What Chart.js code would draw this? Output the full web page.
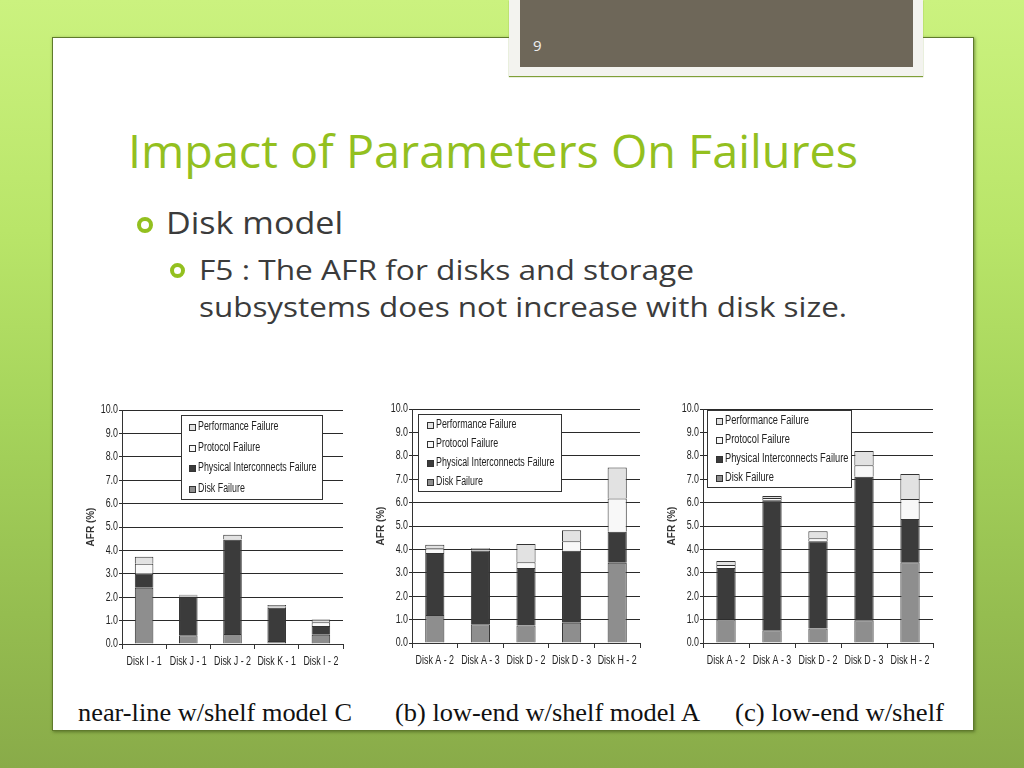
<!DOCTYPE html>
<html>
<head>
<meta charset="utf-8">
<script src="https://cdn.jsdelivr.net/npm/chart.js@4.4.1/dist/chart.umd.min.js"></script>
<style>
  html, body { margin: 0; padding: 0; }
  body {
    width: 1024px; height: 768px; overflow: hidden; position: relative;
    background: linear-gradient(180deg, #cbf27f 0%, #b9e569 30%, #a5d35b 55%, #95bd50 80%, #89ab49 100%);
  }
  .panel {
    position: absolute; left: 52px; top: 37px; width: 920px; height: 692px;
    background: #fff; border: 1px solid #5f7a2c; box-shadow: 1px 1px 3px rgba(40,60,10,0.5);
  }
  .numbox {
    position: absolute; left: 509px; top: 0; width: 414px; height: 76px;
    background: #f3f3ef; box-shadow: 0 1px 1px #7f9f38; z-index: 2;
  }
  .numbox .inner {
    position: absolute; left: 11px; top: 0; width: 393px; height: 67px; background: #6e6759;
  }
  .numbox .num {
    position: absolute; left: 13px; top: 35px; font: 15px "Open Sans", sans-serif; color: #f0f0f0;
  }
  .txt { position: absolute; white-space: nowrap; transform-origin: left top; }
  .title { left: 128px; top: 120px; font: 46px "Open Sans", sans-serif; color: #93c01f; line-height: 60px; }
  .b1 { left: 166px; top: 202px; font: 31px "Open Sans", sans-serif; color: #3b3b3b; line-height: 40px; }
  .b2 { left: 199px; top: 251px; font: 28px "Open Sans", sans-serif; color: #3b3b3b; line-height: 37px; }
  .ring { position: absolute; border: 4px solid #93c01f; border-radius: 50%; box-sizing: border-box; }
  .cap { top: 697px; font: 26px "Liberation Serif", serif; color: #111; line-height: 32px; }
  canvas { position: absolute; }
</style>
</head>
<body>
<div class="numbox"><div class="inner"><div class="num">9</div></div></div>
<div class="panel"></div>

<div class="txt title" id="title">Impact of Parameters On Failures</div>
<div class="ring" style="left:137px;top:217px;width:16px;height:16px;"></div>
<div class="txt b1" id="b1">Disk model</div>
<div class="ring" style="left:170px;top:263px;width:15px;height:15px;"></div>
<div class="txt b2" id="b2a">F5 : The AFR for disks and storage</div>
<div class="txt b2" id="b2b" style="top:288px;">subsystems does not increase with disk size.</div>

<canvas id="c1" width="267" height="276" style="left:84px;top:398px;"></canvas>
<canvas id="c2" width="274" height="276" style="left:374px;top:397px;"></canvas>
<canvas id="c3" width="276" height="276" style="left:665px;top:397px;"></canvas>

<div class="txt cap" id="cap1" style="left:78px;">near-line w/shelf model C</div>
<div class="txt cap" id="cap2" style="left:395px;">(b) low-end w/shelf model A</div>
<div class="txt cap" id="cap3" style="left:735px;">(c) low-end w/shelf</div>

<script>
// series names, bottom of the stack first
const seriesNames = ["Disk Failure", "Physical Interconnects Failure", "Protocol Failure", "Performance Failure"];
const seriesColors = ["#8e8e8e", "#3b3b3b", "#f8f8f8", "#e2e2e2"];
const yTickLabels = ["0.0", "1.0", "2.0", "3.0", "4.0", "5.0", "6.0", "7.0", "8.0", "9.0", "10.0"];

// (a) near-line w/shelf model C
const labelsA = ["Disk I - 1", "Disk J - 1", "Disk J - 2", "Disk K - 1", "Disk I - 2"];
const diskA = [2.4, 0.37, 0.43, 0.13, 0.4];
const physA = [0.6, 1.66, 4.02, 1.42, 0.37];
const protoA = [0.43, 0.04, 0.03, 0.05, 0.16];
const perfA = [0.3, 0.03, 0.19, 0.07, 0.12];

// (b) low-end w/shelf model A
const labelsB = ["Disk A - 2", "Disk A - 3", "Disk D - 2", "Disk D - 3", "Disk H - 2"];
const diskB = [1.2, 0.8, 0.75, 0.87, 3.43];
const physB = [2.65, 3.15, 2.45, 3.07, 1.32];
const protoB = [0.2, 0.05, 0.25, 0.41, 1.42];
const perfB = [0.15, 0.05, 0.78, 0.47, 1.33];

// (c) low-end w/shelf
const labelsC = ["Disk A - 2", "Disk A - 3", "Disk D - 2", "Disk D - 3", "Disk H - 2"];
const diskC = [1.0, 0.55, 0.62, 0.97, 3.45];
const physC = [2.2, 5.55, 3.73, 6.13, 1.85];
const protoC = [0.13, 0.1, 0.13, 0.5, 0.85];
const perfC = [0.17, 0.08, 0.3, 0.6, 1.07];

const SANS = '"Liberation Sans", Arial, sans-serif';
const SQUEEZE = 0.74; // the original figure uses a condensed face

/**
 * Stretch a text block horizontally so it spans the given width
 */
function fitWidth(id, w) {
  const el = document.getElementById(id);
  const r = el.getBoundingClientRect().width;
  el.style.transform = `scaleX(${w / r})`;
}

/**
 * Draw text squeezed horizontally around its anchor
 */
function squeezedText(ctx, text, x, y, align) {
  ctx.save();
  ctx.translate(x, y);
  ctx.scale(SQUEEZE, 1);
  ctx.textAlign = align;
  ctx.fillText(text, 0, 0);
  ctx.restore();
}

/**
 * Tick labels in a condensed look, placed from the chart's own scales
 */
const narrowTicks = {
  id: "narrowTicks",
  afterDraw(chart) {
    const { ctx, scales } = chart;
    ctx.save();
    ctx.fillStyle = "#222";
    ctx.font = "12px " + SANS;
    ctx.textBaseline = "middle";
    chart.data.labels.forEach((lab, i) => {
      squeezedText(ctx, lab, scales.x.getPixelForValue(i), scales.x.top + 18, "center");
    });
    scales.y.ticks.forEach((t, i) => {
      squeezedText(ctx, yTickLabels[i], scales.y.right - 4, scales.y.getPixelForValue(t.value), "right");
    });
    ctx.restore();
  },
};

/**
 * Legend drawn as a framed box inside the plot area
 */
const boxLegend = {
  id: "boxLegend",
  afterDatasetsDraw(chart, args, o) {
    const { ctx, chartArea } = chart;
    const x = Math.round(chartArea.left + o.x), y = Math.round(chartArea.top + o.y);
    ctx.save();
    ctx.fillStyle = "#fff";
    ctx.fillRect(x, y, o.w, o.h);
    ctx.strokeStyle = "#333";
    ctx.lineWidth = 1;
    ctx.strokeRect(x + 0.5, y + 0.5, o.w, o.h);
    ctx.font = "12.5px " + SANS;
    ctx.textBaseline = "middle";
    chart.data.datasets.slice().reverse().forEach((ds, i) => {
      const cy = Math.round(y + o.first + i * o.step);
      ctx.fillStyle = ds.backgroundColor;
      ctx.fillRect(x + o.pad, cy - 3, 6, 6);
      ctx.strokeRect(x + o.pad + 0.5, cy - 3 + 0.5, 6, 6);
      ctx.fillStyle = "#222";
      ctx.save();
      ctx.translate(x + o.pad + 9, cy);
      ctx.scale(o.sx, 1);
      ctx.fillText(ds.label, 0, 0);
      ctx.restore();
    });
    ctx.restore();
  },
};

function renderChart(id, labels, series, legendPos) {
  const ctx = document.getElementById(id).getContext("2d");
  return new Chart(ctx, {
    type: "bar",
    data: {
      labels: labels,
      datasets: series.map((data, i) => ({
        label: seriesNames[i],
        data: data,
        backgroundColor: seriesColors[i],
        borderColor: "#333",
        borderWidth: 1,
        barPercentage: 0.42,
        categoryPercentage: 1,
      })),
    },
    options: {
      responsive: false,
      devicePixelRatio: 1,
      animation: false,
      layout: { padding: { top: 12, right: 8, left: 0, bottom: 0 } },
      plugins: {
        legend: { display: false },
        tooltip: { enabled: false },
        boxLegend: legendPos,
      },
      scales: {
        x: {
          stacked: true,
          grid: { offset: true, drawOnChartArea: false, drawTicks: true, tickLength: 5, color: "#333" },
          border: { color: "#333" },
          ticks: { display: false, autoSkip: false },
          afterFit(scale) { scale.height = 30; },
        },
        y: {
          stacked: true,
          min: 0,
          max: 10,
          grid: { color: "#2a2a2a", tickLength: 3 },
          border: { color: "#333" },
          ticks: { display: false, stepSize: 1 },
          title: {
            display: true,
            text: "AFR (%)",
            color: "#333",
            font: { family: SANS, size: 10, weight: "bold" },
            padding: { top: 1, bottom: 0 },
          },
          afterFit(scale) { scale.width = 38; },
        },
      },
    },
    plugins: [boxLegend, narrowTicks],
  });
}

document.addEventListener("DOMContentLoaded", () => {
  fitWidth("title", 730);
  fitWidth("b1", 177);
  fitWidth("b2a", 495);
  fitWidth("b2b", 648);
  fitWidth("cap1", 274);
  fitWidth("cap2", 305);
  fitWidth("cap3", 209);

  renderChart("c1", labelsA, [diskA, physA, protoA, perfA],
    { x: 59, y: 5, w: 141, h: 84, first: 12, step: 20.5, pad: 8, sx: 0.71 });
  renderChart("c2", labelsB, [diskB, physB, protoB, perfB],
    { x: 6, y: 5, w: 143, h: 77, first: 11, step: 19, pad: 9, sx: 0.71 });
  renderChart("c3", labelsC, [diskC, physC, protoC, perfC],
    { x: 4, y: 1, w: 144, h: 77, first: 11, step: 19, pad: 9, sx: 0.74 });
});
</script>
</body>
</html>
